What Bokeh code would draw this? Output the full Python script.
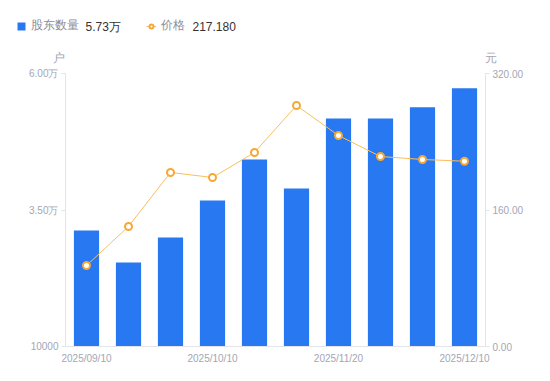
from bokeh.plotting import figure
from bokeh.layouts import column
from bokeh.models import (Range1d, LinearAxis, FixedTicker, Legend, LegendItem, Label,
                          ColumnDataSource)
from bokeh.embed import file_html
from bokeh.resources import INLINE

dates = ["2025/09/10", "2025/09/19", "2025/09/30", "2025/10/10", "2025/10/20",
         "2025/10/31", "2025/11/20", "2025/11/28", "2025/12/05", "2025/12/10"]
holders = [31250, 25400, 29950, 36750, 44250, 38950, 51750, 51750, 53800, 57300]
price = [94.9, 140.7, 204.0, 198.1, 227.4, 282.5, 247.3, 222.7, 219.2, 217.18]
x_tick_idx = [0, 3, 6, 9]
left_ticks = [10000, 35000, 60000]
left_labels = ["10000", "3.50万", "6.00万"]
right_ticks = [0, 160, 320]
right_labels = ["0.00", "160.00", "320.00"]
legend_names = ["股东数量", "价格"]
legend_values = ["5.73万", "217.180"]
units = ["户", "元"]

FONT = "Liberation Sans"
GRAY = "#a3a6b4"
LEG_GRAY = "#8a8e99"
AXIS = "#e3e4e8"
BLUE = "#2878f2"
ORANGE = "#f7a833"
LINE = "#f9bf5c"

W = 542
HDR_H = 65

xs = [i + 0.5 for i in range(len(dates))]
src = ColumnDataSource(dict(x=xs, holders=holders, price=price, date=dates))

# ---------- header (legend + unit labels) ----------
# the header's view window lies away from the data, so its renderers only feed the legend
hdr = figure(width=W, height=HDR_H, output_backend="svg", toolbar_location=None,
             x_range=Range1d(-W, 0), y_range=Range1d(0, HDR_H),
             min_border=0, x_axis_location=None, y_axis_location=None)
hdr.frame_align = False
hdr.outline_line_color = None
hdr.xgrid.visible = False
hdr.ygrid.visible = False
hb = hdr.vbar(x="x", top="holders", width=0.6, source=src, fill_color=BLUE, line_color=None)
hl = hdr.line(x="x", y="price", source=src, line_color=LINE, line_width=1)
hs = hdr.scatter(x="x", y="price", source=src, size=7, line_color=ORANGE, line_width=2,
                 fill_color="white")
legend = Legend(items=[LegendItem(label=legend_names[0], renderers=[hb]),
                       LegendItem(label=legend_names[1], renderers=[hl, hs])],
                orientation="horizontal", location=(16, 31),
                glyph_width=10, glyph_height=10, label_standoff=5, spacing=67,
                padding=0, margin=0, border_line_color=None, background_fill_alpha=0,
                label_text_font=FONT, label_text_font_size="12px",
                label_text_color=LEG_GRAY, label_height=16)
hdr.add_layout(legend, "center")
for txt, x in zip(legend_values, [85, 192]):
    hdr.add_layout(Label(x=x, y=39, x_units="screen", y_units="screen", text=txt,
                         text_font=FONT, text_font_size="12px", text_color="#333333",
                         text_baseline="middle", text_align="left"))
for txt, x in zip(units, [58, 490]):
    hdr.add_layout(Label(x=x, y=8, x_units="screen", y_units="screen", text=txt,
                         text_font=FONT, text_font_size="12px", text_color=GRAY,
                         text_baseline="middle", text_align="center"))

# ---------- main chart ----------
p = figure(width=W, height=308, output_backend="svg", toolbar_location=None,
           x_range=Range1d(0, len(dates)), y_range=Range1d(10000, 60000),
           min_border_left=65, min_border_right=57, min_border_top=8, min_border_bottom=27,
           x_axis_location=None, y_axis_location=None)
p.frame_align = False
p.outline_line_color = None
p.xgrid.visible = False
p.ygrid.visible = False
p.extra_y_ranges = {"price": Range1d(0, 320)}

p.vbar(x="x", top="holders", bottom=10000, width=0.6, source=src,
       fill_color=BLUE, line_color=None)
p.line(x="x", y="price", source=src, y_range_name="price", line_color=LINE, line_width=1)
p.scatter(x="x", y="price", source=src, y_range_name="price", size=7,
          line_color=ORANGE, line_width=2, fill_color="white")

def style(ax):
    ax.axis_line_color = AXIS
    ax.major_label_text_color = GRAY
    ax.major_label_text_font = FONT
    ax.major_label_text_font_size = "10px"
    ax.minor_tick_line_color = None
    ax.major_tick_line_color = AXIS
    ax.major_tick_in = 0
    ax.major_tick_out = 4

xax = LinearAxis(ticker=FixedTicker(ticks=[xs[i] for i in x_tick_idx]),
                 major_label_overrides={xs[i]: dates[i] for i in x_tick_idx})
style(xax)
xax.major_tick_line_color = None
xax.major_tick_out = 0
xax.major_label_standoff = 6
p.add_layout(xax, "below")

lax = LinearAxis(ticker=FixedTicker(ticks=left_ticks),
                 major_label_overrides={t: l for t, l in zip(left_ticks, left_labels)})
style(lax)
lax.major_label_standoff = 3
p.add_layout(lax, "left")

rax = LinearAxis(y_range_name="price", ticker=FixedTicker(ticks=right_ticks),
                 major_label_overrides={t: l for t, l in zip(right_ticks, right_labels)})
style(rax)
rax.major_label_standoff = 3
p.add_layout(rax, "right")

layout = column(hdr, p, spacing=0)
open("out.html", "w").write(file_html(layout, INLINE))
